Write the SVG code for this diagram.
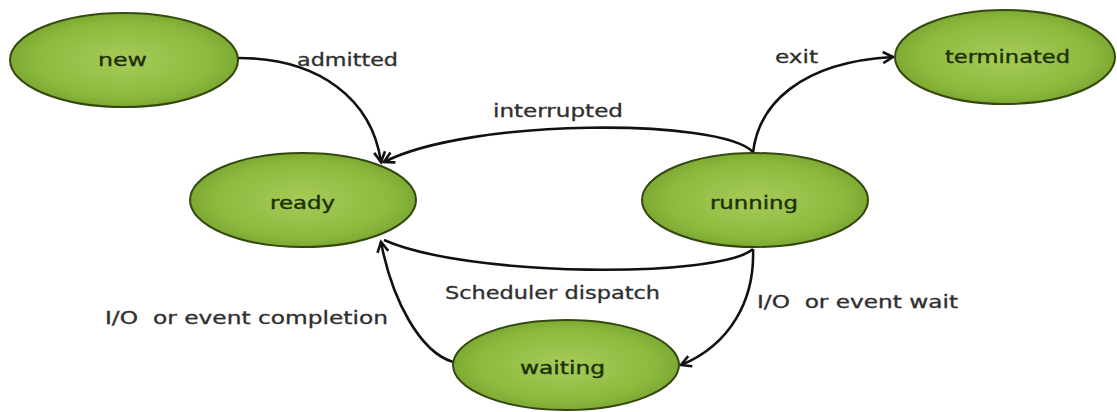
<svg xmlns="http://www.w3.org/2000/svg" width="1117" height="412" viewBox="0 0 1117 412">
<style>
.node ellipse{fill:url(#g);stroke:#34480f;stroke-width:2}
.nl{font-family:"DejaVu Sans",sans-serif;font-size:18px;fill:#1e300a;stroke:#1e300a;stroke-width:0.4}
.el{font-family:"DejaVu Sans",sans-serif;font-size:17px;fill:#2e2e2e;stroke:#2e2e2e;stroke-width:0.3;white-space:pre}
.c path{fill:none;stroke:#111;stroke-width:2.6}
</style>
<defs>
<radialGradient id="g" cx="50%" cy="50%" r="55%">
<stop offset="0" stop-color="#a6cc58"/>
<stop offset="0.7" stop-color="#8dba3e"/>
<stop offset="1" stop-color="#76a22e"/>
</radialGradient>
<marker id="ah" markerUnits="userSpaceOnUse" markerWidth="16" markerHeight="14" refX="12" refY="7" orient="auto">
<path d="M2,1.5 L12,7 L2,12.5" fill="none" stroke="#111" stroke-width="2.6" stroke-linejoin="miter"/>
</marker>
</defs>
<rect width="1117" height="412" fill="#fff"/>
<g class="c">
<path d="M238,58 C320,58 372,100 381,162" marker-end="url(#ah)"/>
<path d="M753,152 C720,118 470,118 384,162" marker-end="url(#ah)"/>
<path d="M753,153 C758,105 800,62 893,57" marker-end="url(#ah)"/>
<path d="M753,249 C720,278 470,278 384,240"/>
<path d="M453,362 C420,352 392,300 381,242" marker-end="url(#ah)"/>
<path d="M753,249 C755,300 730,345 681,365" marker-end="url(#ah)"/>
</g>
<g id="new" class="node"><ellipse cx="124" cy="60" rx="114" ry="47"/><text class="nl" x="98" y="66" textLength="49" lengthAdjust="spacingAndGlyphs">new</text></g>
<g id="terminated" class="node"><ellipse cx="1005" cy="57" rx="110" ry="47"/><text class="nl" x="945" y="63" textLength="125" lengthAdjust="spacingAndGlyphs">terminated</text></g>
<g id="ready" class="node"><ellipse cx="303" cy="200" rx="113" ry="47"/><text class="nl" x="270" y="209" textLength="65" lengthAdjust="spacingAndGlyphs">ready</text></g>
<g id="running" class="node"><ellipse cx="755" cy="200" rx="113" ry="47"/><text class="nl" x="710" y="209" textLength="88" lengthAdjust="spacingAndGlyphs">running</text></g>
<g id="waiting" class="node"><ellipse cx="566" cy="365" rx="113" ry="45"/><text class="nl" x="520" y="374" textLength="85" lengthAdjust="spacingAndGlyphs">waiting</text></g>
<g id="labels">
<text class="el" x="297" y="66" textLength="101" lengthAdjust="spacingAndGlyphs">admitted</text>
<text class="el" x="775" y="63" textLength="43" lengthAdjust="spacingAndGlyphs">exit</text>
<text class="el" x="493" y="117" textLength="130" lengthAdjust="spacingAndGlyphs">interrupted</text>
<text class="el" x="445" y="299" textLength="215" lengthAdjust="spacingAndGlyphs">Scheduler dispatch</text>
<text class="el" x="105" y="324" textLength="283" lengthAdjust="spacingAndGlyphs" xml:space="preserve">I/O  or event completion</text>
<text class="el" x="757" y="308" textLength="201" lengthAdjust="spacingAndGlyphs" xml:space="preserve">I/O  or event wait</text>
</g>
</svg>
